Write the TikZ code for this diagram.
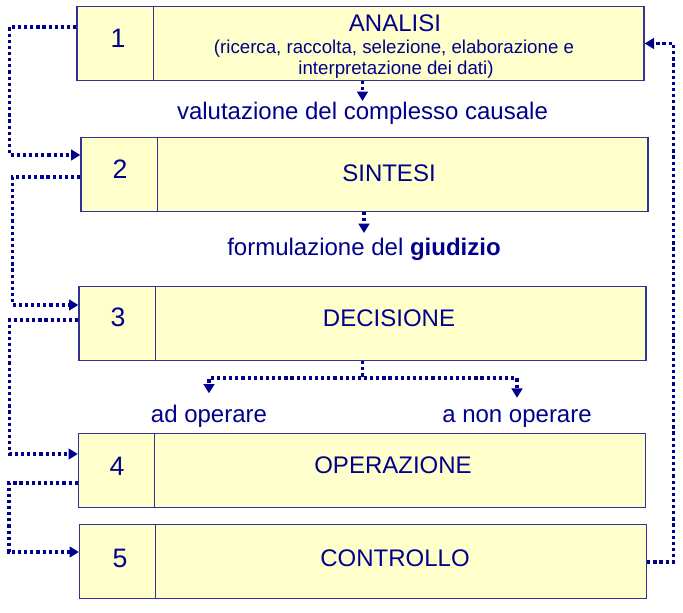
\documentclass[tikz,border=0pt]{standalone}
\usepackage{fontspec}
\setmainfont{Liberation Sans}
\usetikzlibrary{arrows.meta}
\definecolor{inkblue}{RGB}{0,0,140}
\definecolor{boxfill}{RGB}{255,255,204}
\definecolor{boxedge}{RGB}{50,50,150}

\begin{document}
\begin{tikzpicture}[x=0.75pt,y=-0.75pt,
    stage/.style={draw=boxedge,fill=boxfill,line width=1pt,
      minimum width=425.25pt,minimum height=55.5pt,inner sep=0pt},
    num/.style={anchor=base,inner sep=1pt,text=inkblue,font=\fontsize{20}{24}\selectfont},
    title/.style={anchor=base,inner sep=1pt,text=inkblue,font=\fontsize{18}{21}\selectfont},
    small/.style={anchor=base,inner sep=1pt,text=inkblue,font=\fontsize{14}{17}\selectfont},
    flow/.style={inkblue,line width=2.5pt,dash pattern=on 2.4pt off 2.2pt,
      -{Triangle[length=7pt,width=8pt]}}]

    \useasboundingbox (0,0) rectangle (683,613);

    % Stage boxes with the number column
    \foreach \i/\cx/\cy in {1/360.5/43.5,2/364.5/174.5,3/362.5/323.5,4/362/470.5,5/363/561.5} {
      \node[stage] (box\i) at (\cx,\cy) {};
      \draw[boxedge,line width=0.8pt] ([xshift=57.75pt]box\i.north west)
        -- ([xshift=57.75pt]box\i.south west);
    }

    % Numbers
    \foreach \i/\x/\y in {1/118/48,2/120/179,3/118/327,4/117/475,5/120/567} {
      \node[num] (n\i) at (\x,\y) {\i};
    }

    % Stage names
    \node[title] (t1) at (395,32) {ANALISI};
    \node[small] (sub1) at (394,54) {(ricerca, raccolta, selezione, elaborazione e};
    \node[small] (sub2) at (396,75) {interpretazione dei dati)};
    \node[title] (t2) at (389,182) {SINTESI};
    \node[title] (t3) at (389,327) {DECISIONE};
    \node[title] (t4) at (393,474) {OPERAZIONE};
    \node[title] (t5) at (395,566) {CONTROLLO};

    % Labels between the stages
    \node[title] (valut) at (362.5,120) {valutazione del complesso causale};
    \node[title] (formul) at (364,256) {formulazione del \textbf{giudizio}};
    \node[title] (adop) at (209,423) {ad operare};
    \node[title] (nonop) at (517,423) {a non operare};

    % Downward steps
    \draw[flow] (box1.south -| valut) -- (valut.north);
    \draw[flow,shorten >=3pt] (box2.south -| formul) -- (formul.north);
    \draw[flow,shorten >=8pt] (box3.south) -- ++(0,17) -| (adop.north);
    \draw[flow,shorten >=8pt] (box3.south) -- ++(0,17) -| (nonop.north);

    % Side links, stage to stage
    \draw[flow] ([shift={(0,-16.5)}]box1.west) -- ++(-67,0) |- ([shift={(0,-19.5)}]box2.west);
    \draw[flow] ([shift={(0,2.5)}]box2.west) -- ++(-68,0) |- ([shift={(0,-18.5)}]box3.west);
    \draw[flow] ([shift={(0,-3.5)}]box3.west) -- ++(-69,0) |- ([shift={(0,-16.5)}]box4.west);
    \draw[flow] ([shift={(0,12.5)}]box4.west) -- ++(-69,0) |- ([shift={(0,-9.5)}]box5.west);

    % Feedback from control to analysis
    \draw[flow] ([shift={(0,0.5)}]box5.east) -- ++(26,0) |- (box1.east);

  \end{tikzpicture}
\end{document}
